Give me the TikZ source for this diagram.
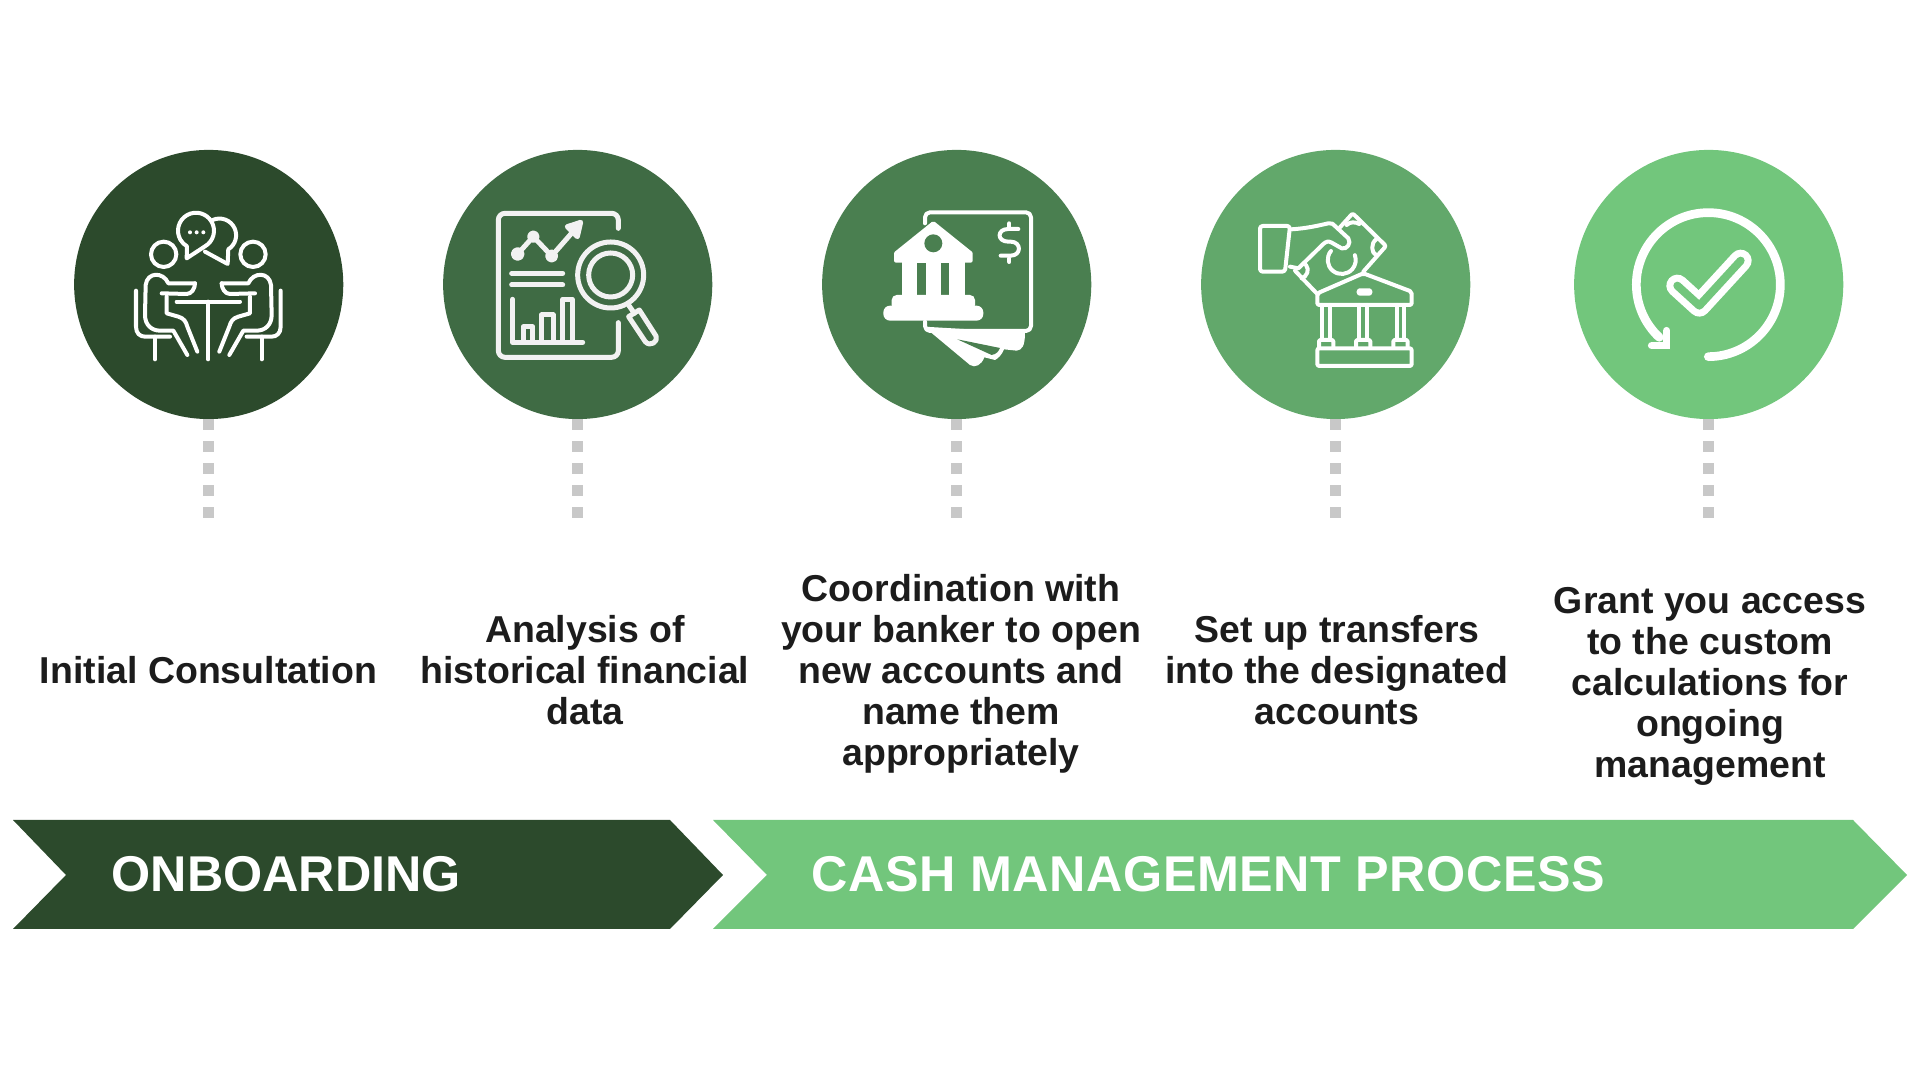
\documentclass[tikz,border=0pt]{standalone}
\usepackage{fontspec}
\setmainfont{Liberation Sans}
\definecolor{darkgreen}{HTML}{2C4A2C}
\definecolor{forestgreen}{HTML}{3F6B44}
\definecolor{midgreen}{HTML}{4A7F50}
\definecolor{softgreen}{HTML}{62A86B}
\definecolor{lightgreen}{HTML}{72C67C}
\definecolor{stemgray}{HTML}{C8C8C8}
\definecolor{captionink}{HTML}{1C1C1C}
\definecolor{offwhite}{HTML}{F2F2F2}
\begin{document}
\begin{tikzpicture}[
            x=0.01cm, y=-0.01cm,
            topic/.style={circle, minimum size=2.69cm, inner sep=0pt, outer sep=0pt},
            stem/.style={draw=stemgray, line width=0.11cm, dash pattern=on 0.11cm off 0.11cm},
            caption/.style={text=captionink, align=center, font=\fontsize{10.65}{11.67}\selectfont\bfseries},
            banner/.style={text=white, anchor=west, inner sep=0pt, font=\fontsize{14.3}{16}\selectfont\bfseries},
            iconline/.style={draw=white, line cap=round, line join=round, line width=0.04cm},
            iconfill/.style={fill=white, draw=white, line join=round, line width=0.04cm}
            ]
            \useasboundingbox (0,0) rectangle (1920,1080);

            \foreach \x/\cx/\col in {1/208.7/darkgreen,2/577.7/forestgreen,3/956.7/midgreen,4/1335.7/softgreen,5/1708.7/lightgreen}{
                \node[topic, fill=\col] (topic-\x) at (\cx,284.5) {};
                \coordinate (tail-\x) at (\cx,519);
                \draw[stem] (topic-\x.south) -- (tail-\x);
            }

            \node[caption] (caption-1) at (208.5,670) {Initial Consultation};
            \node[caption] (caption-2) at (585,670) {Analysis of\\historical financial\\data};
            \node[caption] (caption-3) at (961,674) {Coordination with\\your banker to open\\new accounts and\\name them\\appropriately};
            \node[caption] (caption-4) at (1337,670) {Set up transfers\\into the designated\\accounts};
            \node[caption] (caption-5) at (1710,686) {Grant you access\\to the custom\\calculations for\\ongoing\\management};

            \fill[darkgreen] (13,820) -- (670,820) -- (723,875) -- (670,929) -- (13,929) -- (66,875) -- cycle;
            \fill[lightgreen] (713,820) -- (1853,820) -- (1907,875) -- (1853,929) -- (713,929) -- (767,875) -- cycle;
            \node[banner] (onboarding) at (111,874) {ONBOARDING};
            \node[banner] (cashprocess) at (811,874) {\addfontfeature{LetterSpace=1.1}CASH MANAGEMENT PROCESS};

            % meeting
            \begin{scope}[shift={(60,140)}, scale=1/3]
                \draw[iconline] (435,319) arc[start angle=60, end angle=-240, radius=54] -- (380,355) -- cycle;
                \draw[iconline] (458,240) arc[start angle=-114, end angle=58, radius=50] -- (503,372) -- (435,335);
                \foreach \d in {390,410,430}{
                    \fill[white] (\d,277) circle (6);
                }
                \foreach \m/\off in {1/0,-1/890}{
                    \begin{scope}[shift={(\off,0)}, xscale=\m]
                        \draw[iconline] (311,343) circle (38);
                        \draw[iconline] (405,430) -- (325,430) .. controls (310,395) and (262,395) .. (257,435) -- (255,525) .. controls (255,555) and (275,572) .. (300,572) -- (340,572) -- (382,645);
                        \draw[iconline] (305,460) -- (380,462) .. controls (395,462) and (405,445) .. (405,430);
                        \draw[iconline] (320,470) -- (320,520) -- (355,530) .. controls (372,535) and (378,545) .. (382,560) -- (412,635);
                        \draw[iconline] (228,452) -- (228,560) .. controls (228,580) and (240,590) .. (255,590) -- (330,590);
                        \draw[iconline] (285,590) -- (285,658);
                    \end{scope}
                }
                \draw[iconline] (350,485) -- (540,485);
                \draw[iconline] (445,485) -- (445,658);
            \end{scope}

            % report
            \begin{scope}[shift={(440,140)}, scale=1/3, every path/.append style={draw=offwhite, line width=0.05cm, line cap=round, line join=round}]
                \draw[rounded corners=0.067cm] (535,265) -- (535,220) -- (175,220) -- (175,652) -- (535,652) -- (535,548);
                \draw (233,342) -- (280,290) -- (335,348) -- (405,268);
                \fill[offwhite] (422,247) -- (382,260) -- (412,290) -- cycle;
                \fill[offwhite] (233,342) circle (13);
                \fill[offwhite] (280,290) circle (11);
                \fill[offwhite] (335,348) circle (12);
                \draw (215,400) -- (368,400);
                \draw (215,435) -- (368,435);
                \draw (218,478) -- (218,607) -- (428,607);
                \draw (250,607) -- (250,560) -- (278,560) -- (278,607);
                \draw (305,607) -- (305,525) -- (340,525) -- (340,607);
                \draw (368,607) -- (368,478) -- (397,478) -- (397,607);
                \draw (512,405) circle (99);
                \draw (512,405) circle (66);
                \draw (567,497) -- (583,520);
                \draw (566,530) -- (598,510) -- (648,588) .. controls (656,605) and (630,622) .. (616,605) -- cycle;
            \end{scope}

            % bank and cards
            \begin{scope}[shift={(820,140)}, scale=1/3]
                \draw[iconline, rounded corners=0.05cm] (315,250) -- (315,217) -- (633,217) -- (633,573) -- (315,573) -- (315,545);
                \fill[white] (312,560) -- (450,675) .. controls (465,685) and (485,675) .. (493,652) -- (525,660) .. controls (535,655) and (545,645) .. (552,628) -- (590,632) .. controls (605,630) and (615,620) .. (615,578) -- cycle;
                \fill[midgreen] (412,598) -- (540,624) .. controls (535,635) and (530,642) .. (515,645) -- cycle;
                \fill[iconfill] (340,250) -- (228,340) -- (228,362) -- (452,362) -- (452,340) -- cycle;
                \fill[white] (245,360) rectangle (435,470);
                \fill[midgreen] (292,370) rectangle (317,465);
                \fill[midgreen] (363,370) rectangle (388,465);
                \fill[midgreen] (340,310) circle (27);
                \fill[white, rounded corners=0.05cm] (215,465) rectangle (465,510);
                \fill[white, rounded corners=0.067cm] (190,497) rectangle (490,542);
                \draw[iconline] (568,250) -- (568,262);
                \draw[iconline] (568,355) -- (568,366);
                \draw[iconline] (595,267) -- (565,267) .. controls (530,267) and (530,305) .. (565,305) -- (572,305) .. controls (605,305) and (605,347) .. (572,347) -- (542,347);
            \end{scope}

            % hand and building
            \begin{scope}[shift={(1200,140)}, scale=1/3]
                \draw[iconline, rounded corners=0.027cm] (180,258) -- (270,258) -- (255,395) -- (180,395) -- cycle;
                \draw[iconline] (275,268) .. controls (320,265) and (350,258) .. (385,250) .. controls (395,248) and (400,252) .. (405,258) -- (445,295) .. controls (455,310) and (440,330) .. (425,325) -- (395,308) .. controls (385,302) and (378,305) .. (370,312) -- (295,385) -- (270,380);
                \draw[iconline, rounded corners=0.02cm] (420,262) -- (458,220) -- (558,318) -- (490,395);
                \draw[iconline, rounded corners=0.02cm] (285,392) -- (350,460);
                \draw[iconline] (440,255) .. controls (450,245) and (465,245) .. (478,252);
                \draw[iconline] (530,297) .. controls (510,310) and (515,340) .. (528,345);
                \draw[iconline] (318,375) .. controls (330,390) and (320,410) .. (305,415);
                \draw[iconline] (393,333) arc[start angle=220, end angle=-20, radius=42];
                \draw[iconline, rounded corners=0.02cm] (352,460) -- (352,495) -- (635,495) -- (635,455) -- (490,400) -- cycle;
                \draw[iconline, rounded corners=0.01cm] (476,451) rectangle (511,461);
                \foreach \c in {367,478,590}{
                    \draw[iconline] (\c,495) -- (\c,600);
                    \draw[iconline] (\c+23,495) -- (\c+23,600);
                    \draw[iconline, rounded corners=0.013cm] (\c-10,622) -- (\c-10,600) -- (\c+33,600) -- (\c+33,622);
                }
                \draw[iconline, rounded corners=0.02cm] (352,625) rectangle (635,678);
            \end{scope}

            % check and loop
            \begin{scope}[shift={(1570,140)}, scale=1/3]
                \draw[iconline, line width=0.087cm] (415,650) arc[start angle=90, end angle=-227, radius=216];
                \draw[iconline, line width=0.075cm, line join=miter] (290,572) -- (290,617) -- (245,617);
                \draw[white, line width=0.22cm, line cap=round, line join=round] (322,437) -- (388,497) -- (512,362);
                \draw[lightgreen, line width=0.08cm, line cap=round, line join=round] (322,437) -- (388,497) -- (512,362);
            \end{scope}
        \end{tikzpicture}
\end{document}
